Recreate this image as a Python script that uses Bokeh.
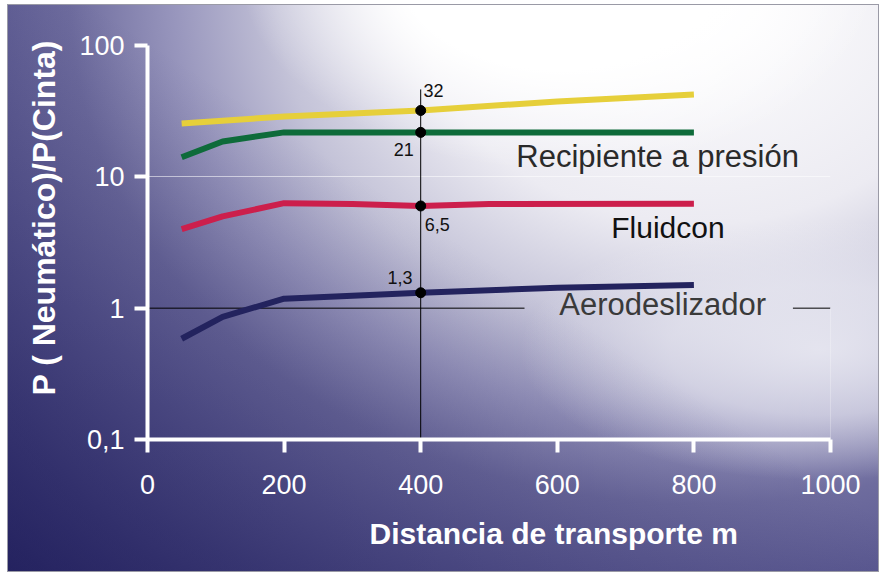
from bokeh.plotting import figure
from bokeh.models import Range1d, FixedTicker, CustomJSTickFormatter, Title, ColumnDataSource
from bokeh.core.properties import value
from bokeh.embed import file_html
from bokeh.resources import INLINE

# ---- data ----
x_recip = [50, 200, 400, 600, 800]
y_recip = [25.5, 28.8, 32, 37.5, 42.4]

x_green = [50, 110, 200, 400, 600, 800]
y_green = [14.1, 18.6, 21.8, 21.8, 21.8, 21.8]

x_fluid = [50, 110, 200, 300, 400, 500, 800]
y_fluid = [4.0, 5.0, 6.3, 6.2, 6.0, 6.2, 6.25]

x_aero = [50, 110, 200, 400, 600, 800]
y_aero = [0.585, 0.86, 1.18, 1.31, 1.43, 1.5]

mark_x = [400, 400, 400, 400]
mark_y = [32, 21.8, 6.0, 1.31]
mark_text = ["32", "21", "6,5", "1,3"]

series_names = ["Recipiente a presión", "Fluidcon", "Aerodeslizador"]
x_ticks = [0, 200, 400, 600, 800, 1000]
y_ticks = [0.1, 1, 10, 100]

FONT = "Liberation Sans"

p = figure(width=870, height=566, output_backend="svg", toolbar_location=None,
           y_axis_type="log", x_range=Range1d(0, 1000), y_range=Range1d(0.1, 100),
           min_border_left=137, min_border_right=48, min_border_top=40, min_border_bottom=132)
p.background_fill_color = None
p.border_fill_color = None
p.outline_line_color = None
p.styles = {
    "margin-left": "8px",
    "margin-top": "5px",
    "box-shadow": "0 0 0 1px #9a9aa6",
    "background": (
        "linear-gradient(to top right, rgba(22,20,80,0.5) 0%, rgba(22,20,80,0) 55%), "
        "radial-gradient(ellipse 320px 200px at 552px -35px, rgba(255,255,255,1) 0%, "
        "rgba(255,255,255,1) 50%, rgba(255,255,255,0) 100%), "
        "radial-gradient(ellipse 300px 130px at 812px 345px, rgba(236,236,244,0.85) 0%, "
        "rgba(236,236,244,0.6) 50%, rgba(236,236,244,0) 100%), "
        "radial-gradient(ellipse 700px 560px at 692px -5px, "
        "#ffffff 0%, #ecebf2 40%, #c4c3d8 60%, #9896bd 75%, #6e6c9e 90%, "
        "#5c5a92 105%, #45437f 125%, #2a2868 150%)"
    ),
}

# grid
p.xgrid.visible = False
p.ygrid.ticker = FixedTicker(ticks=[10, 100])
p.ygrid.grid_line_color = "white"
p.ygrid.grid_line_alpha = 0.55
p.ygrid.grid_line_width = 1

# axes
for ax in (p.xaxis[0], p.yaxis[0]):
    ax.axis_line_color = "white"
    ax.axis_line_width = 4
    ax.major_tick_line_color = "white"
    ax.major_tick_line_width = 4
    ax.major_tick_out = 13
    ax.major_tick_in = 0
    ax.minor_tick_line_color = None
    ax.major_label_text_color = "white"
    ax.major_label_text_font = FONT
    ax.major_label_text_font_size = "27px"

p.xaxis.ticker = FixedTicker(ticks=x_ticks)
p.xaxis.major_label_standoff = 22
p.yaxis.ticker = FixedTicker(ticks=y_ticks)
p.yaxis.formatter = CustomJSTickFormatter(code="return tick < 0.5 ? '0,1' : String(Math.round(tick));")
p.yaxis.major_label_standoff = 10

# axis titles (placed as in the original, not centred)
p.add_layout(Title(text="P ( Neumático)/P(Cinta)", align="left", offset=44,
                   text_font=FONT, text_font_size="32px", text_font_style="bold",
                   text_color="white", standoff=30), "left")
p.add_layout(Title(text="Distancia de transporte m", align="left", offset=222,
                   text_font=FONT, text_font_size="30px", text_font_style="bold",
                   text_color="white", standoff=36), "below")

# reference lines
p.line([400, 400], [0.1, 46.3], line_color="black", line_width=1)
p.line([0, 552], [1, 1], line_color="black", line_width=1)
p.line([945, 1000], [1, 1], line_color="black", line_width=1)
p.line([1000, 1000], [0.1, 1], line_color="white", line_alpha=0.5, line_width=1)

# series
p.line(x_recip, y_recip, line_color="#e6cf3a", line_width=6)
p.line(x_green, y_green, line_color="#0e6b3a", line_width=6)
p.line(x_fluid, y_fluid, line_color="#cc1f4c", line_width=6)
p.line(x_aero, y_aero, line_color="#23235e", line_width=6)

p.scatter(mark_x, mark_y, size=10, fill_color="black", line_color="black")

# value labels
lab_src = ColumnDataSource(dict(
    x=[404, 390, 406, 388], y=[45.5, 16.1, 4.33, 1.71], text=mark_text,
    align=["left", "right", "left", "right"]))
p.text(x="x", y="y", text="text", source=lab_src, text_align="align",
       text_baseline="middle", text_font=value(FONT), text_font_size="18px",
       text_color="#111111")

# series labels
ser_src = ColumnDataSource(dict(
    x=[540, 679, 603], y=[14.35, 4.11, 1.06], text=series_names,
    color=["#2a2a2a", "#111111", "#3a3a3a"], size=["31px", "30px", "31px"]))
p.text(x="x", y="y", text="text", source=ser_src, text_align="left",
       text_baseline="middle", text_font=value(FONT), text_font_size="size",
       text_color="color")

open("out.html", "w").write(file_html(p, INLINE))
